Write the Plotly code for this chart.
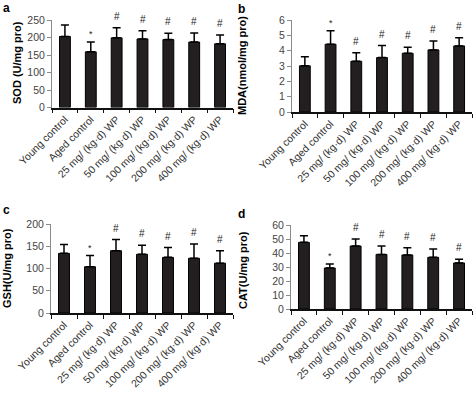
import plotly.graph_objects as go

categories = ["Young control", "Aged control", "25 mg/ (kg·d) WP", "50 mg/ (kg·d) WP",
              "100 mg/ (kg·d) WP", "200 mg/ (kg·d) WP", "400 mg/ (kg·d) WP"]

sod_mean = [203, 159, 199, 196, 194, 187, 182]
sod_err = [33, 28, 29, 23, 18, 26, 25]
sod_marks = ["", "*", "#", "#", "#", "#", "#"]

mda_mean = [3.01, 4.42, 3.31, 3.55, 3.83, 4.05, 4.31]
mda_err = [0.60, 0.88, 0.56, 0.78, 0.39, 0.58, 0.54]
mda_marks = ["", "*", "#", "#", "#", "#", "#"]

gsh_mean = [134, 104, 140, 132, 125, 123, 112]
gsh_err = [20, 25, 25, 20, 22, 32, 28]
gsh_marks = ["", "*", "#", "#", "#", "#", "#"]

cat_mean = [47.6, 29.3, 45.0, 39.0, 38.6, 36.9, 32.9]
cat_err = [4.8, 2.8, 5.0, 6.0, 5.2, 6.0, 2.6]
cat_marks = ["", "*", "#", "#", "#", "#", "#"]

panels = [
    dict(mean=sod_mean, err=sod_err, marks=sod_marks, ymax=250, dtick=50,
         title="SOD (U/mg pro)", letter="a",
         xdom=[52/473, 233/473], ydom=[1-107.5/394, 1-20/394], title_x=17, title_y=63, letter_xy=(6, 8)),
    dict(mean=mda_mean, err=mda_err, marks=mda_marks, ymax=6, dtick=1,
         title="MDA(nmol/mg pro)", letter="b",
         xdom=[292/473, 472/473], ydom=[1-112/394, 1-20/394], title_x=242, title_y=66, letter_xy=(241, 9)),
    dict(mean=gsh_mean, err=gsh_err, marks=gsh_marks, ymax=200, dtick=50,
         title="GSH(U/mg pro)", letter="c",
         xdom=[51/473, 233/473], ydom=[1-313/394, 1-224/394], title_x=7, title_y=268, letter_xy=(6, 210)),
    dict(mean=cat_mean, err=cat_err, marks=cat_marks, ymax=60, dtick=10,
         title="CAT(U/mg pro)", letter="d",
         xdom=[291/473, 472/473], ydom=[1-309/394, 1-225/394], title_x=243, title_y=270, letter_xy=(241, 214)),
]

FONT = "Liberation Sans, Arial, Helvetica, sans-serif"
fig = go.Figure()
annotations = []
layout = {}
W, H = 473, 394

for i, p in enumerate(panels, start=1):
    xa = "x" if i == 1 else f"x{i}"
    ya = "y" if i == 1 else f"y{i}"
    fig.add_trace(go.Bar(
        x=categories, y=p["mean"], xaxis=xa, yaxis=ya,
        width=0.42,
        marker=dict(color="#231f20", line=dict(color="#000000", width=1)),
        error_y=dict(type="data", symmetric=False, array=p["err"],
                     arrayminus=[0] * len(p["err"]),
                     color="#000000", thickness=1.5, width=4),
        showlegend=False,
    ))
    layout[f"xaxis{'' if i == 1 else i}"] = dict(
        domain=p["xdom"], anchor=ya, type="category", range=[-0.5, 6.5],
        showline=True, linecolor="#111111", linewidth=1.5,
        ticks="outside", tickson="boundaries", ticklen=4, tickcolor="#111111", tickwidth=1,
        tickangle=-45, tickfont=dict(size=10.5, color="#333333", family=FONT),
        showgrid=False, zeroline=False, fixedrange=True, automargin=False,
    )
    layout[f"yaxis{'' if i == 1 else i}"] = dict(
        domain=p["ydom"], anchor=xa, range=[0, p["ymax"]], dtick=p["dtick"],
        showline=True, linecolor="#8a8a8a", linewidth=1,
        ticks="outside", ticklen=4, tickcolor="#8a8a8a", tickwidth=1,
        tickfont=dict(size=10.5, color="#444444", family=FONT),
        showgrid=False, zeroline=False, fixedrange=True, automargin=False,
    )
    for c, m, e, mk in zip(categories, p["mean"], p["err"], p["marks"]):
        if mk:
            annotations.append(dict(
                x=c, y=m + e, xref=xa, yref=ya, text=mk, showarrow=False,
                yanchor="bottom", yshift=4 if mk == "#" else 1,
                font=dict(size=10 if mk == "#" else 9, color="#222222", family=FONT),
            ))
    annotations.append(dict(
        x=p["title_x"] / W, y=1 - p["title_y"] / H, xref="paper", yref="paper",
        text=f"<b>{p['title']}</b>", textangle=-90, showarrow=False,
        xanchor="center", yanchor="middle",
        font=dict(size=11, color="#000000", family=FONT),
    ))
    annotations.append(dict(
        x=p["letter_xy"][0] / W, y=1 - p["letter_xy"][1] / H, xref="paper", yref="paper",
        text=f"<b>{p['letter']}</b>", showarrow=False,
        xanchor="center", yanchor="middle",
        font=dict(size=12, color="#000000", family=FONT),
    ))

fig.update_layout(
    width=W, height=H, margin=dict(l=0, r=0, t=0, b=0, autoexpand=False),
    paper_bgcolor="white", plot_bgcolor="white",
    font=dict(family=FONT),
    annotations=annotations, bargap=0.58,
    **layout,
)

fig.write_html(
    "out.html",
    config={"responsive": False, "displayModeBar": False},
    post_script="document.body.style.margin='0';document.body.style.overflow='hidden';",
)
